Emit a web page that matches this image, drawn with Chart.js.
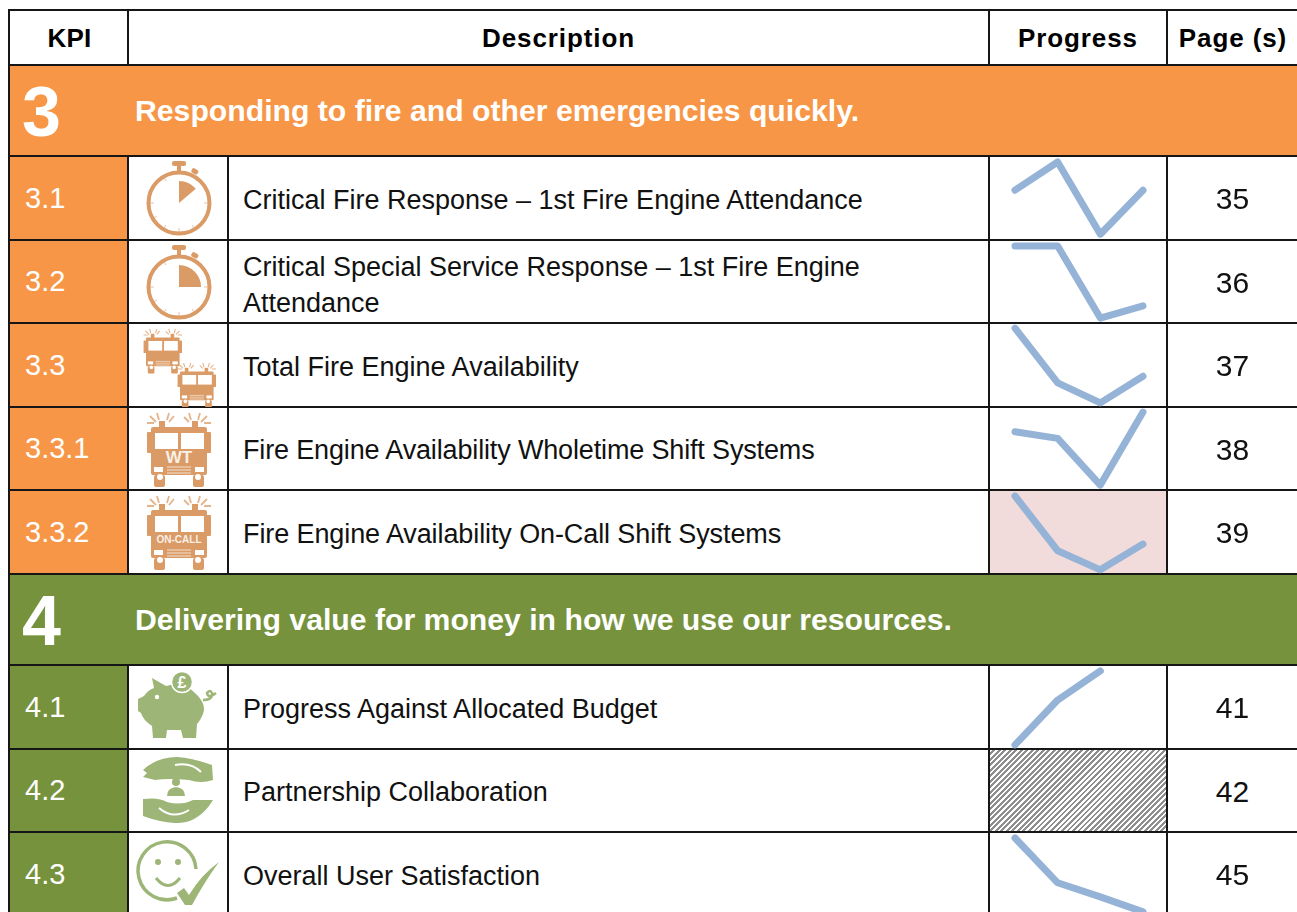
<!DOCTYPE html>
<html>
<head>
<meta charset="utf-8">
<title>KPI summary</title>
<script src="https://cdn.jsdelivr.net/npm/chart.js@4/dist/chart.umd.min.js"></script>
<style>
    html, body { margin: 0; padding: 0; width: 1297px; height: 912px; overflow: hidden; background: #fff; }
    body { font-family: "Liberation Sans", Arial, sans-serif; position: relative; }
    #kpi-table { position: absolute; left: 8px; top: 9px; width: 1290px; border-collapse: collapse; table-layout: fixed; }
    #kpi-table td, #kpi-table th { border: 2px solid #161616; padding: 0; position: relative; }
    #kpi-table th { height: 51px; padding-top: 2px; font-size: 26px; font-weight: bold; color: #000; background: #fff; letter-spacing: 0.9px; }
    #kpi-table th:first-child { letter-spacing: 0.2px; padding-left: 2px; }
    .band td { color: #fff; font-weight: bold; font-size: 30.2px; }
    .band .num { position: absolute; left: 12px; top: 50%; transform: translateY(-49%); font-size: 70px; line-height: 1; }
    .band .title { position: absolute; left: 125px; top: 50%; transform: translateY(-50%); white-space: nowrap; }
    .orange td.fill { background: #F79646; }
    .green td.fill { background: #76923C; }
    .id { color: #fff; font-size: 29px; padding-left: 15px !important; }
    #kpi-table td.desc { font-size: 27px; color: #111; padding: 3px 0 0 14px; line-height: 36px; }
    #kpi-table td.page { font-size: 30px; color: #111; text-align: center; padding: 2px 1px 0 0; }
    .icon svg { position: absolute; left: 0; top: 0; width: 100px; height: 83px; }
    .spark canvas { position: absolute; left: 0; top: 0; }
    .alert { background: #F2DCDB; }
    .hatch { background: repeating-linear-gradient(135deg, #fff 0, #fff 1.9px, #8f8f8f 1.9px, #8f8f8f 3.9px); }
</style>
</head>
<body>
<table id="kpi-table"></table>

<script>
const columns = ['KPI', 'Description', 'Progress', 'Page (s)'];

const group3Number = '3';
const group3Title = 'Responding to fire and other emergencies quickly.';
const group3Ids = ['3.1', '3.2', '3.3', '3.3.1', '3.3.2'];
const group3Descriptions = [
    'Critical Fire Response – 1st Fire Engine Attendance',
    'Critical Special Service Response – 1st Fire Engine Attendance',
    'Total Fire Engine Availability',
    'Fire Engine Availability Wholetime Shift Systems',
    'Fire Engine Availability On-Call Shift Systems'
];
const group3Pages = ['35', '36', '37', '38', '39'];

const group4Number = '4';
const group4Title = 'Delivering value for money in how we use our resources.';
const group4Ids = ['4.1', '4.2', '4.3'];
const group4Descriptions = [
    'Progress Against Allocated Budget',
    'Partnership Collaboration',
    'Overall User Satisfaction'
];
const group4Pages = ['41', '42', '45'];

// sparkline levels, four periods each
const periods = ['P1', 'P2', 'P3', 'P4'];
const series31 = [60, 94, 7, 60];
const series32 = [94, 94, 6, 21];
const series33 = [95, 29, 5, 37];
const series331 = [71, 63, 6, 95];
const series332 = [94, 28, 5, 36];
const series41 = [5, 59, 94, null];
const series42 = null; // no data, cell is hatched
const series43 = [94, 40, 23, 5];

const COL_WIDTHS = [119, 100, 761, 178, 132];
const BAND_HEIGHT = 91;
const ROW_HEIGHTS = { '3.1': 84, '3.2': 83, '3.3': 84, '3.3.1': 83, '3.3.2': 84, '4.1': 84, '4.2': 83, '4.3': 84 };
const DESC_STYLES = { '3.2': 'padding-top:7px', '3.3.1': 'letter-spacing:-0.15px', '3.3.2': 'letter-spacing:-0.1px' };
const ORANGE_ICON = '#DB9B66';
const GREEN_ICON = '#9DB677';

const Icons = {
    watch(sweep) {
        const c = ORANGE_ICON;
        const a = sweep * Math.PI / 180;
        const x = 50 + 22 * Math.sin(a), y = 46 - 22 * Math.cos(a);
        return `<svg viewBox="0 0 100 83">
            <circle cx="50" cy="46" r="30.5" fill="none" stroke="${c}" stroke-width="4"/>
            <rect x="43" y="4" width="14" height="5" rx="2" fill="${c}"/>
            <rect x="48" y="8" width="4" height="8" fill="${c}"/>
            <rect x="62" y="12" width="7" height="5" rx="2" fill="${c}" transform="rotate(30 66 15)"/>
            <path d="M50 46 L50 24 A22 22 0 0 1 ${x} ${y} Z" fill="${c}"/>
            <path d="M21 46 H25 M75 46 H79 M50 71 V75 M35 21 l2 3 M65 71 l-2 -3 M25 61 l3 -2 M35 71 l2 -3" stroke="${c}" stroke-width="1" opacity=".6"/>
        </svg>`;
    },
    truck(x, y, s, label, labelSize) {
        const c = ORANGE_ICON;
        const text = label ? `<text x="33" y="${label === 'WT' ? 50 : 47}" text-anchor="middle" font-family="Liberation Sans, Arial" font-weight="bold" font-size="${labelSize}" fill="#fff" opacity=".85">${label}</text>` : '';
        return `<g transform="translate(${x} ${y}) scale(${s})">
            <path d="M11 0 l2 7 M4 3 l6 6 M1 10 h7 M23 0 l-2 7 M28 3 l-5 6 M43 0 l2 7 M38 4 l5 5 M54 0 l-2 7 M61 3 l-6 6 M65 10 h-7" stroke="${c}" stroke-width="1.8" fill="none" opacity=".75"/>
            <rect x="13" y="8" width="6" height="8" fill="${c}"/><rect x="46" y="8" width="6" height="8" fill="${c}"/>
            <rect x="5" y="14" width="56" height="48" rx="2" fill="${c}"/>
            <rect x="1" y="19" width="5" height="21" rx="1" fill="${c}"/><rect x="60" y="19" width="5" height="21" rx="1" fill="${c}"/>
            <rect x="9" y="20" width="23" height="16" fill="#fff"/><rect x="35" y="20" width="23" height="16" fill="#fff"/>
            <rect x="8" y="54" width="9" height="5" fill="#fff"/><rect x="49" y="54" width="9" height="5" fill="#fff"/>
            <path d="M21 54 h24 M21 57 h24 M21 60 h24" stroke="#fff" stroke-width="1.2" opacity=".7"/>
            <rect x="8" y="62" width="11" height="12" rx="2" fill="${c}"/><rect x="47" y="62" width="11" height="12" rx="2" fill="${c}"/>
            <circle cx="14" cy="64" r="3" fill="#fff"/><circle cx="52" cy="64" r="3" fill="#fff"/>
            ${text}
        </g>`;
    },
    trucks() {
        return `<svg viewBox="0 0 100 83">${this.truck(14, 5, 0.6)}${this.truck(48, 39, 0.6)}</svg>`;
    },
    bigTruck(label, size) {
        return `<svg viewBox="0 0 100 83">${this.truck(17, 5, 1, label, size)}</svg>`;
    },
    pig() {
        const c = GREEN_ICON;
        return `<svg viewBox="0 0 100 83">
            <path d="M23 12 L37 20 Q55 15 66 27 Q78 38 74 48 Q71 55 68 58 L67 72 L54 72 L52 64 L38 64 L37 72 L24 72 L23 60 Q14 54 12 47 L9 45 L9 33 L15 30 Q19 24 25 22 Z" fill="${c}"/>
            <circle cx="53" cy="16" r="10.5" fill="${c}" stroke="#fff" stroke-width="1.5"/>
            <text x="53" y="22" text-anchor="middle" font-family="Liberation Sans, Arial" font-weight="bold" font-size="16" fill="#fff">£</text>
            <path d="M74 34 Q84 34 83 27 Q81 23 78 27 Q79 33 87 27" fill="none" stroke="${c}" stroke-width="2.5"/>
            <circle cx="28" cy="31" r="2.2" fill="#fff"/>
        </svg>`;
    },
    hands() {
        const c = GREEN_ICON;
        return `<svg viewBox="0 0 100 83">
            <path d="M14 20 Q28 7 48 7 Q64 8 83 15 L84 30 Q72 34 60 30 Q40 28 26 30 L14 27 L18 23 Z" fill="${c}"/>
            <path d="M46 15 Q62 12 72 22" fill="none" stroke="#fff" stroke-width="2"/>
            <circle cx="47" cy="32" r="4" fill="${c}"/>
            <path d="M38 46 Q38 38 47 37 Q56 38 56 46 Z" fill="${c}"/>
            <path d="M14 49 Q30 47 38 52 Q52 56 64 50 L84 50 L80 56 Q66 74 46 73 Q30 72 14 66 Z" fill="${c}"/>
            <path d="M30 58 Q44 70 60 60" fill="none" stroke="#fff" stroke-width="2"/>
        </svg>`;
    },
    smile() {
        const c = GREEN_ICON;
        return `<svg viewBox="0 0 100 83">
            <path d="M67 36 A29 29 0 1 0 48 65" fill="none" stroke="${c}" stroke-width="3.5"/>
            <circle cx="29" cy="29" r="3" fill="${c}"/><circle cx="49" cy="29" r="3" fill="${c}"/>
            <path d="M27 45 Q39 60 51 45" fill="none" stroke="${c}" stroke-width="3"/>
            <path d="M48 60 L55 55 L60 62 Q72 42 90 29 Q76 48 63 72 L56 72 Z" fill="${c}"/>
        </svg>`;
    }
};

const KpiPage = {
    charts: [],

    render() {
        const table = document.getElementById('kpi-table');
        const colgroup = '<colgroup>' + COL_WIDTHS.map(w => `<col style="width:${w}px">`).join('') + '</colgroup>';
        const header = `<tr>
            <th>${columns[0]}</th><th colspan="2">${columns[1]}</th><th>${columns[2]}</th><th>${columns[3]}</th>
        </tr>`;

        const icons3 = [
            Icons.watch(50), Icons.watch(90), Icons.trucks(),
            Icons.bigTruck('WT', 17), Icons.bigTruck('ON-CALL', 10)
        ];
        const icons4 = [Icons.pig(), Icons.hands(), Icons.smile()];

        table.innerHTML = colgroup + header
            + this.band('orange', group3Number, group3Title)
            + this.rows('orange', group3Ids, group3Descriptions, group3Pages, icons3)
            + this.band('green', group4Number, group4Title)
            + this.rows('green', group4Ids, group4Descriptions, group4Pages, icons4);

        this.drawSpark('3.1', series31);
        this.drawSpark('3.2', series32);
        this.drawSpark('3.3', series33);
        this.drawSpark('3.3.1', series331);
        this.drawSpark('3.3.2', series332);
        this.drawSpark('4.1', series41);
        this.drawSpark('4.2', series42);
        this.drawSpark('4.3', series43);
    },

    band(colour, number, title) {
        return `<tr class="band ${colour}" style="height:${BAND_HEIGHT}px">
            <td class="fill" colspan="5"><span class="num">${number}</span><span class="title">${title}</span></td>
        </tr>`;
    },

    rows(colour, ids, descriptions, pages, icons) {
        return ids.map((id, i) => {
            const extra = id === '3.3.2' ? ' alert' : (id === '4.2' ? ' hatch' : '');
            const descStyle = DESC_STYLES[id] ? `style="${DESC_STYLES[id]}"` : '';
            return `<tr class="${colour}" style="height:${ROW_HEIGHTS[id]}px">
                <td class="fill id">${id}</td>
                <td class="icon">${icons[i]}</td>
                <td class="desc" ${descStyle}>${descriptions[i]}</td>
                <td class="spark${extra}" data-kpi="${id}"></td>
                <td class="page">${pages[i]}</td>
            </tr>`;
        }).join('');
    },

    drawSpark(id, values) {
        if (!values) return;
        const cell = document.querySelector(`[data-kpi="${id}"]`);
        const canvas = document.createElement('canvas');
        canvas.width = COL_WIDTHS[3];
        canvas.height = ROW_HEIGHTS[id] - 1;
        cell.appendChild(canvas);

        this.charts.push(new Chart(canvas, {
            type: 'line',
            data: {
                labels: periods,
                datasets: [{
                    data: values,
                    borderColor: '#95B3D7',
                    borderWidth: 7,
                    borderCapStyle: 'round',
                    borderJoinStyle: 'round',
                    tension: 0,
                    pointRadius: 0,
                    clip: false
                }]
            },
            options: {
                responsive: false,
                animation: false,
                layout: { padding: { left: 25, right: 25, top: 0, bottom: 0 } },
                plugins: { legend: { display: false }, tooltip: { enabled: false } },
                scales: {
                    x: { display: false },
                    y: { display: false, min: 0, max: 100 }
                }
            }
        }));
    }
};

KpiPage.render();
</script>
</body>
</html>
